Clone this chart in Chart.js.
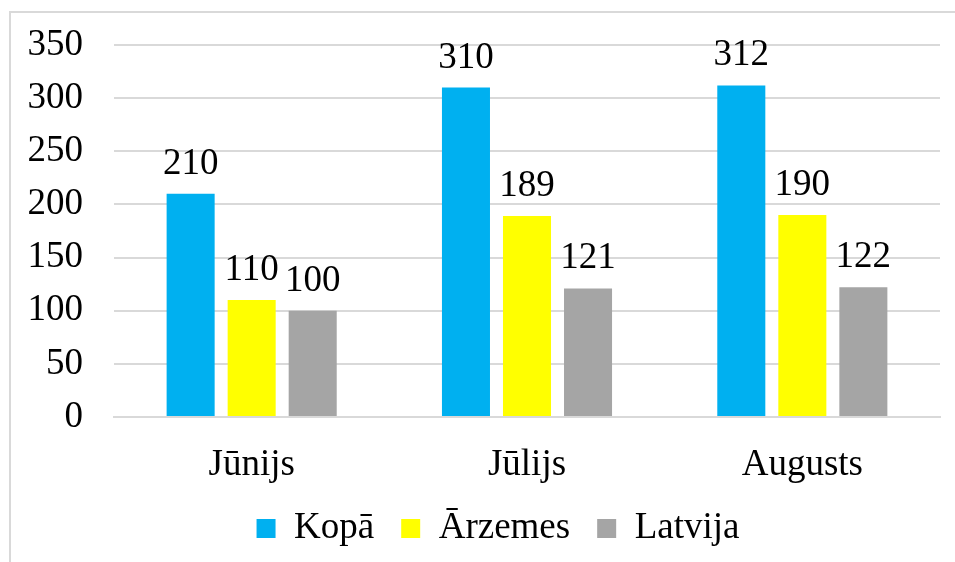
<!DOCTYPE html>
<html>
<head>
<meta charset="utf-8">
<script src="https://cdn.jsdelivr.net/npm/chart.js@4/dist/chart.umd.min.js"></script>
<style>
  html, body { margin: 0; padding: 0; background: #fff; overflow: hidden; }
  #frame { position: absolute; left: 9px; top: 11px; width: 960px; height: 560px;
           border-left: 2px solid #d9d9d9; border-top: 2px solid #d9d9d9; }
  #wrap { position: absolute; left: 0; top: 0; width: 955px; height: 562px; }
</style>
</head>
<body>
<div id="frame"></div>
<div id="wrap"><canvas id="chart"></canvas></div>
<script>
// Months on the x axis.
const categories = ['Jūnijs', 'Jūlijs', 'Augusts'];
// Series names and values.
const seriesNames = ['Kopā', 'Ārzemes', 'Latvija'];
const kopa = [210, 310, 312];
const arzemes = [110, 189, 190];
const latvija = [100, 121, 122];
// Series colours.
const colors = ['#00B0F0', '#FFFF00', '#A5A5A5'];

const FONT = "'Liberation Serif', 'Times New Roman', serif";
const SIZE = 37;

// Draws the value above every bar.
const valueLabels = {
    id: 'valueLabels',
    afterDatasetsDraw( chart ) {
        const ctx = chart.ctx;
        ctx.save();
        ctx.font = SIZE + 'px ' + FONT;
        ctx.fillStyle = '#000';
        ctx.textAlign = 'center';
        ctx.textBaseline = 'alphabetic';
        chart.data.datasets.forEach( ( ds, i ) => {
            chart.getDatasetMeta( i ).data.forEach( ( bar, j ) => {
                ctx.fillText( String( ds.data[j] ), bar.x, bar.y - 20 );
            });
        });
        ctx.restore();
    }
};

// The legend sits a little off the plot centre, as in the original layout.
const legendShift = {
    id: 'legendShift',
    afterLayout( chart ) {
        const l = chart.legend;
        l.left += 28; l.right += 28;
        l.top -= 4; l.bottom -= 4;
    }
};

new Chart( document.getElementById( 'chart' ), {
    type: 'bar',
    data: {
        labels: categories,
        datasets: [kopa, arzemes, latvija].map( ( values, i ) => ({
            label: seriesNames[i],
            data: values,
            backgroundColor: colors[i],
            borderWidth: 0,
            categoryPercentage: 0.665,
            barPercentage: 0.787
        }))
    },
    options: {
        responsive: true,
        maintainAspectRatio: false,
        animation: false,
        layout: { padding: { left: 0, right: 15, top: 45, bottom: 1 } },
        plugins: {
            tooltip: { enabled: false },
            legend: {
                position: 'bottom',
                labels: {
                    font: { family: FONT, size: SIZE },
                    color: '#000',
                    boxWidth: 19,
                    boxHeight: 19,
                    padding: 27
                }
            }
        },
        scales: {
            x: {
                grid: { display: false, drawTicks: false },
                border: { display: true, color: '#d9d9d9', width: 2 },
                ticks: { font: { family: FONT, size: SIZE }, color: '#000', padding: 26 },
                afterFit( scale ) { scale.height = 70; }
            },
            y: {
                min: 0,
                max: 350,
                grid: { color: '#d9d9d9', lineWidth: 2, drawTicks: false },
                border: { display: false },
                ticks: { stepSize: 50, font: { family: FONT, size: SIZE }, color: '#000', padding: 31 },
                afterFit( scale ) {
                    scale.width = 114;
                    scale.paddingTop = 0;
                    scale.paddingBottom = 0;
                }
            }
        }
    },
    plugins: [valueLabels, legendShift]
});
</script>
</body>
</html>
